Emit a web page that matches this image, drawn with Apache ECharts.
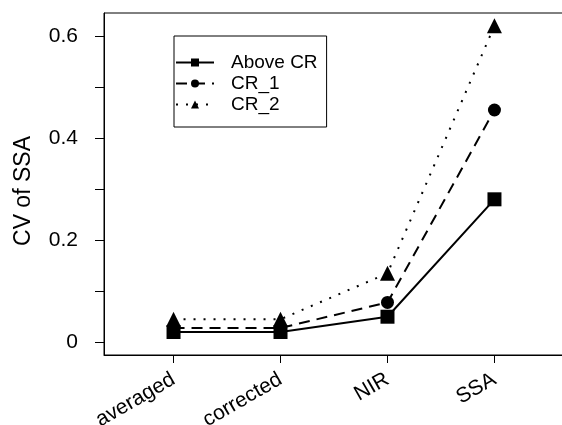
<!DOCTYPE html>
<html>
<head>
<meta charset="utf-8">
<script src="https://cdn.jsdelivr.net/npm/echarts@6/dist/echarts.min.js"></script>
<style>
  html, body { margin: 0; padding: 0; background: #fff; }
  #chart { width: 562px; height: 425px; }
</style>
</head>
<body>
<div id="chart"></div>
<script>
var categories = ["averaged", "corrected", "NIR", "SSA"];
var aboveCR = [0.02, 0.02, 0.05, 0.28];
var cr1 = [0.028, 0.028, 0.078, 0.455];
var cr2 = [0.045, 0.045, 0.135, 0.62];
var yLabelValues = [0, 0.2, 0.4, 0.6];
var yLabelTexts = ["0", "0.2", "0.4", "0.6"];
var yTickValues = [0, 0.1, 0.2, 0.3, 0.4, 0.5, 0.6];
var xTickValues = [1, 2, 3, 4];

function toPairs(values) {
  return values.map(function (v, i) {
    return [i + 1, v];
  });
}

var chart = echarts.init(document.getElementById("chart"), null, { renderer: "canvas" });
var font = "Liberation Sans, Arial, sans-serif";

function makeSeries(name, values, symbol, size, lineType) {
  return {
    name: name,
    type: "line",
    data: toPairs(values),
    symbol: symbol,
    symbolSize: size,
    lineStyle: { color: "#000", width: 2, type: lineType },
    itemStyle: { color: "#000" },
    animation: false
  };
}

chart.setOption({
  backgroundColor: "#fff",
  textStyle: { fontFamily: font },
  grid: {
    left: 104, right: -2, top: 13, bottom: 70,
    outerBoundsMode: "none",
    containLabel: false,
    show: true, borderColor: "#000", borderWidth: 1
  },
  legend: {
    orient: "vertical",
    left: 174,
    top: 36,
    borderColor: "#000",
    borderWidth: 1,
    padding: [17, 9, 13, 1],
    itemWidth: 38,
    itemHeight: 10,
    itemGap: 2,
    textStyle: { fontSize: 19, color: "#000", fontFamily: font, padding: [0, 0, 0, 12] },
    data: ["Above CR", "CR_1", "CR_2"]
  },
  xAxis: {
    type: "value",
    min: 0.35,
    max: 4.65,
    axisLine: { onZero: false, lineStyle: { color: "#000" } },
    axisTick: { show: true, length: 8, customValues: xTickValues, lineStyle: { color: "#000" } },
    splitLine: { show: false },
    axisLabel: {
      customValues: xTickValues,
      rotate: 30,
      margin: 23,
      fontSize: 21,
      color: "#000",
      fontFamily: font,
      formatter: function (v) {
        return categories[Math.round(v) - 1] || "";
      }
    }
  },
  yAxis: {
    type: "value",
    min: -0.025,
    max: 0.645,
    name: "CV of SSA",
    nameLocation: "middle",
    nameGap: 69,
    nameTextStyle: { fontSize: 23, color: "#000", fontFamily: font, padding: [0, 14, 0, 0] },
    axisLine: { onZero: false, lineStyle: { color: "#000" } },
    axisTick: { show: true, length: 9, customValues: yTickValues, lineStyle: { color: "#000" } },
    splitLine: { show: false },
    axisLabel: {
      customValues: yLabelValues,
      fontSize: 21,
      color: "#000",
      fontFamily: font,
      margin: 26,
      formatter: function (v) {
        var i = yLabelValues.indexOf(v);
        return i >= 0 ? yLabelTexts[i] : String(v);
      }
    }
  },
  series: [
    makeSeries("Above CR", aboveCR, "rect", 14, "solid"),
    makeSeries("CR_1", cr1, "circle", 13, [11, 7]),
    makeSeries("CR_2", cr2, "triangle", 15, [2, 8])
  ]
});
</script>
</body>
</html>
